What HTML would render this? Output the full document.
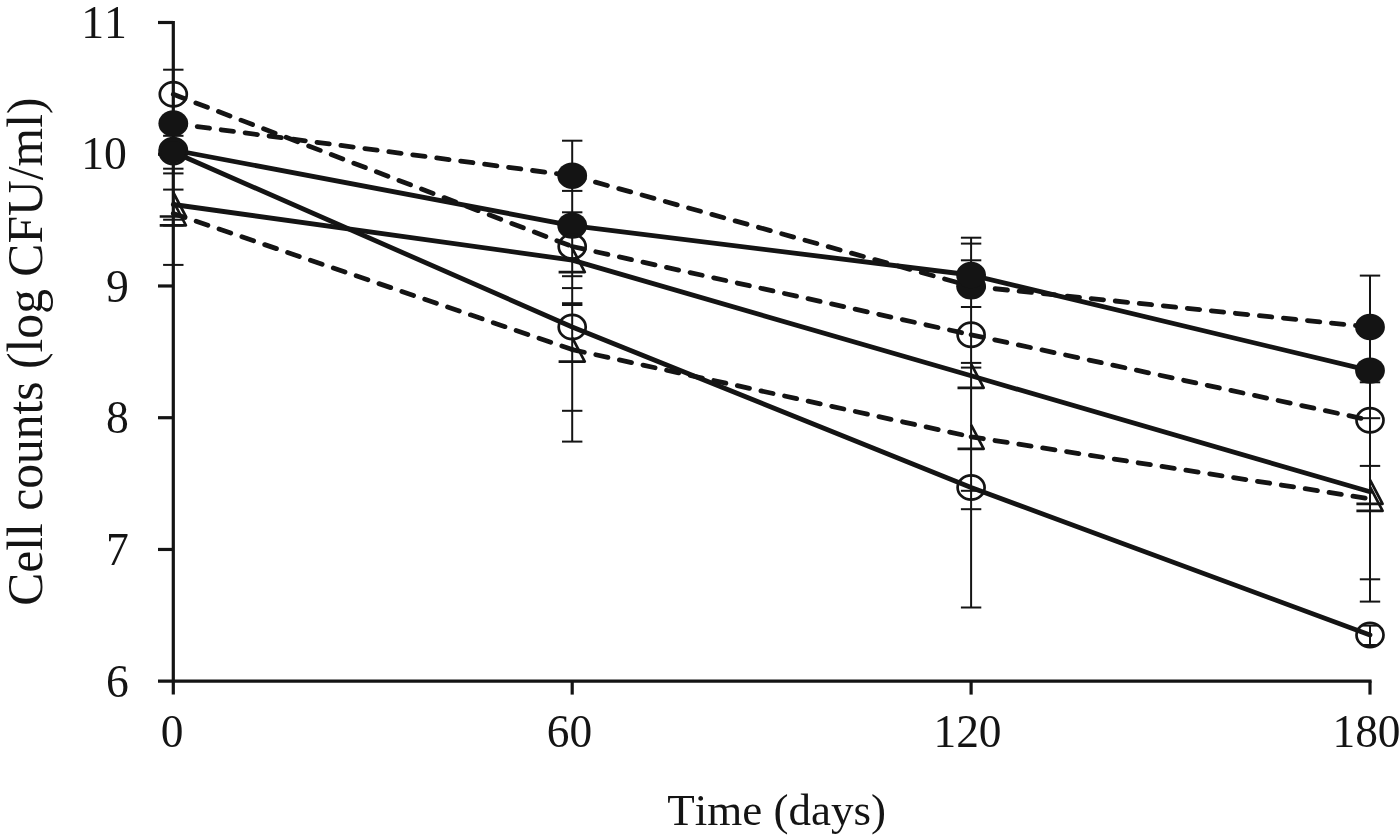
<!DOCTYPE html>
<html lang="en"><head><meta charset="utf-8"><title>Cell counts vs time</title>
<style>html,body{margin:0;padding:0;background:#fff;}body{width:1400px;height:835px;overflow:hidden;}svg{display:block;}text{font-kerning:none;font-family:"Liberation Serif",serif;fill:#141414;}</style></head><body>
<svg width="1400" height="835" viewBox="0 0 1400 835">
<rect width="1400" height="835" fill="#fff"/>
<g stroke="#141414" stroke-width="3.2" fill="none" stroke-linecap="butt">
<path d="M173.3 21 V694.6"/>
<path d="M158 681.2 H1371.6"/>
<path d="M158 22.50 H173.3"/>
<path d="M158 154.24 H173.3"/>
<path d="M158 285.98 H173.3"/>
<path d="M158 417.72 H173.3"/>
<path d="M158 549.46 H173.3"/>
<path d="M572.2 681.2 V694.6"/>
<path d="M971.1 681.2 V694.6"/>
<path d="M1370.0 681.2 V694.6"/>
</g>
<g stroke="#141414" stroke-width="2" fill="none">
<path d="M163.1 69.7 H183.5"/>
<path d="M163.1 135.8 H183.5"/>
<path d="M163.1 168.7 H183.5"/>
<path d="M163.1 173.4 H183.5"/>
<path d="M163.1 189.6 H183.5"/>
<path d="M163.1 219.7 H183.5"/>
<path d="M163.1 225.5 H183.5"/>
<path d="M163.1 264.9 H183.5"/>
<path d="M572.2 140.7 V441.6"/>
<path d="M562.0 140.7 H582.4"/>
<path d="M562.0 190.9 H582.4"/>
<path d="M562.0 212.3 H582.4"/>
<path d="M562.0 272.0 H582.4"/>
<path d="M562.0 276.2 H582.4"/>
<path d="M562.0 288.1 H582.4"/>
<path d="M562.0 303.2 H582.4"/>
<path d="M562.0 305.0 H582.4"/>
<path d="M562.0 410.8 H582.4"/>
<path d="M562.0 441.6 H582.4"/>
<path d="M971.1 237.7 V607.5"/>
<path d="M960.9 237.7 H981.3"/>
<path d="M960.9 243.6 H981.3"/>
<path d="M960.9 260.3 H981.3"/>
<path d="M960.9 307.0 H981.3"/>
<path d="M960.9 362.9 H981.3"/>
<path d="M960.9 367.6 H981.3"/>
<path d="M960.9 490.8 H981.3"/>
<path d="M960.9 509.2 H981.3"/>
<path d="M960.9 607.5 H981.3"/>
<path d="M1370.0 275.6 V601.6"/>
<path d="M1370.0 625.6 V645.0"/>
<path d="M1359.8 275.6 H1380.2"/>
<path d="M1359.8 382.3 H1380.2"/>
<path d="M1359.8 418.2 H1380.2"/>
<path d="M1359.8 465.9 H1380.2"/>
<path d="M1359.8 579.3 H1380.2"/>
<path d="M1359.8 601.6 H1380.2"/>
<path d="M1361.4 625.6 H1378.6"/>
<path d="M1361.4 645.0 H1378.6"/>
</g>
<path d="M173.3 123.5 L572.2 175.7" fill="none" stroke="#141414" stroke-width="4.8" stroke-linecap="round" stroke-dasharray="12.4 11.75"/>
<path d="M572.2 175.7 L971.1 286.3" fill="none" stroke="#141414" stroke-width="4.8" stroke-linecap="round" stroke-dasharray="12.4 11.75"/>
<path d="M971.1 286.3 L1370.0 327.0" fill="none" stroke="#141414" stroke-width="4.8" stroke-linecap="round" stroke-dasharray="12.4 11.75"/>
<polyline points="173.3,150.0 572.2,225.6 971.1,275.0 1370.0,370.6" fill="none" stroke="#141414" stroke-width="4.8" stroke-linecap="round" stroke-linejoin="round"/>
<path d="M173.3 94.3 L572.2 246.5" fill="none" stroke="#141414" stroke-width="4.8" stroke-linecap="round" stroke-dasharray="12.4 11.75"/>
<path d="M572.2 246.5 L971.1 334.8" fill="none" stroke="#141414" stroke-width="4.8" stroke-linecap="round" stroke-dasharray="12.4 11.75"/>
<path d="M971.1 334.8 L1370.0 420.2" fill="none" stroke="#141414" stroke-width="4.8" stroke-linecap="round" stroke-dasharray="12.4 11.75"/>
<polyline points="173.3,152.0 572.2,327.0 971.1,487.5 1370.0,635.0" fill="none" stroke="#141414" stroke-width="4.8" stroke-linecap="round" stroke-linejoin="round"/>
<polyline points="173.3,204.5 572.2,260.1 971.1,375.8 1370.0,491.8" fill="none" stroke="#141414" stroke-width="4.8" stroke-linecap="round" stroke-linejoin="round"/>
<path d="M173.3 213.4 L572.2 349.6" fill="none" stroke="#141414" stroke-width="4.8" stroke-linecap="round" stroke-dasharray="12.4 11.75"/>
<path d="M572.2 349.6 L971.1 436.8" fill="none" stroke="#141414" stroke-width="4.8" stroke-linecap="round" stroke-dasharray="12.4 11.75"/>
<path d="M971.1 436.8 L1370.0 498.8" fill="none" stroke="#141414" stroke-width="4.8" stroke-linecap="round" stroke-dasharray="12.4 11.75"/>
<ellipse cx="173.3" cy="123.5" rx="14.9" ry="13.2" fill="#141414"/>
<ellipse cx="572.2" cy="175.7" rx="14.9" ry="13.2" fill="#141414"/>
<ellipse cx="971.1" cy="286.3" rx="14.9" ry="13.2" fill="#141414"/>
<ellipse cx="1370.0" cy="327.0" rx="14.9" ry="13.2" fill="#141414"/>
<ellipse cx="173.3" cy="150.0" rx="14.9" ry="13.2" fill="#141414"/>
<ellipse cx="572.2" cy="225.6" rx="14.9" ry="13.2" fill="#141414"/>
<ellipse cx="971.1" cy="275.0" rx="14.9" ry="13.2" fill="#141414"/>
<ellipse cx="1370.0" cy="370.6" rx="14.9" ry="13.2" fill="#141414"/>
<ellipse cx="173.3" cy="94.3" rx="13.5" ry="12.1" fill="none" stroke="#141414" stroke-width="2.7"/>
<ellipse cx="572.2" cy="246.5" rx="13.5" ry="12.1" fill="none" stroke="#141414" stroke-width="2.7"/>
<ellipse cx="971.1" cy="334.8" rx="13.5" ry="12.1" fill="none" stroke="#141414" stroke-width="2.7"/>
<ellipse cx="1370.0" cy="420.2" rx="13.5" ry="12.1" fill="none" stroke="#141414" stroke-width="2.7"/>
<ellipse cx="173.3" cy="152.0" rx="13.5" ry="12.1" fill="none" stroke="#141414" stroke-width="2.7"/>
<ellipse cx="572.2" cy="327.0" rx="13.5" ry="12.1" fill="none" stroke="#141414" stroke-width="2.7"/>
<ellipse cx="971.1" cy="487.5" rx="13.5" ry="12.1" fill="none" stroke="#141414" stroke-width="2.7"/>
<ellipse cx="1370.0" cy="635.0" rx="13.5" ry="12.1" fill="none" stroke="#141414" stroke-width="2.7"/>
<path d="M173.3 192.5 L185.9 216.5 L159.7 216.5" fill="none" stroke="#141414" stroke-width="2.7" stroke-linejoin="round"/>
<path d="M572.2 248.1 L584.8 272.1 L558.6 272.1" fill="none" stroke="#141414" stroke-width="2.7" stroke-linejoin="round"/>
<path d="M971.1 363.8 L983.7 387.8 L957.5 387.8" fill="none" stroke="#141414" stroke-width="2.7" stroke-linejoin="round"/>
<path d="M1370.0 479.8 L1382.6 503.8 L1356.4 503.8" fill="none" stroke="#141414" stroke-width="2.7" stroke-linejoin="round"/>
<path d="M173.3 201.4 L185.9 225.4 L159.7 225.4" fill="none" stroke="#141414" stroke-width="2.7" stroke-linejoin="round"/>
<path d="M572.2 337.6 L584.8 361.6 L558.6 361.6" fill="none" stroke="#141414" stroke-width="2.7" stroke-linejoin="round"/>
<path d="M971.1 424.8 L983.7 448.8 L957.5 448.8" fill="none" stroke="#141414" stroke-width="2.7" stroke-linejoin="round"/>
<path d="M1370.0 486.8 L1382.6 510.8 L1356.4 510.8" fill="none" stroke="#141414" stroke-width="2.7" stroke-linejoin="round"/>
<text x="126.9" y="37.5" font-size="45.7" text-anchor="end">11</text>
<text x="126.9" y="169.2" font-size="45.7" text-anchor="end">10</text>
<text x="128.9" y="301.6" font-size="45.7" text-anchor="end">9</text>
<text x="128.9" y="433.3" font-size="45.7" text-anchor="end">8</text>
<text x="128.9" y="565.1" font-size="45.7" text-anchor="end">7</text>
<text x="128.9" y="696.8" font-size="45.7" text-anchor="end">6</text>
<text x="172.0" y="746.6" font-size="45.4" text-anchor="middle">0</text>
<text x="569.5" y="746.6" font-size="45.4" text-anchor="middle">60</text>
<text x="967.5" y="746.6" font-size="45.4" text-anchor="middle">120</text>
<text x="1366.5" y="746.6" font-size="45.4" text-anchor="middle">180</text>
<text x="776.7" y="825" font-size="45" text-anchor="middle">Time (days)</text>
<text transform="translate(42 351.7) rotate(-90)" font-size="49.6" text-anchor="middle">Cell counts (log CFU/ml)</text>
</svg></body></html>
